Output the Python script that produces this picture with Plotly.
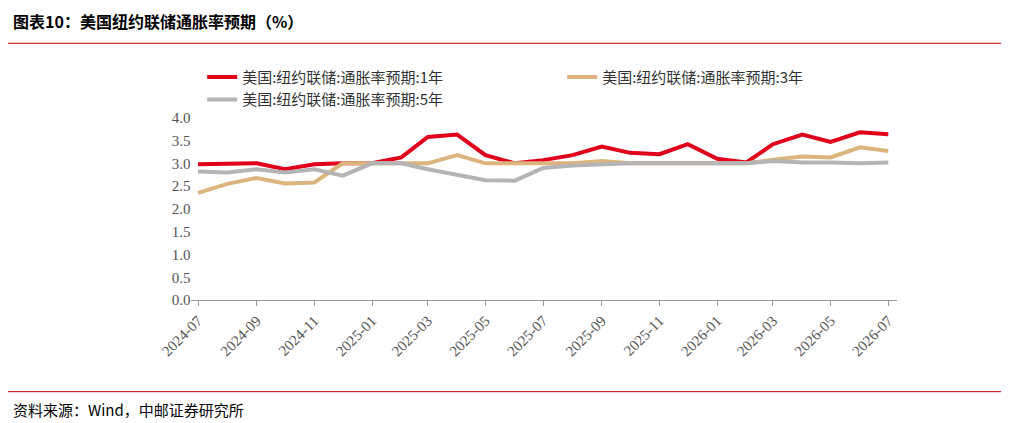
import plotly.graph_objects as go

months = ["2024-07-01", "2024-08-01", "2024-09-01", "2024-10-01", "2024-11-01", "2024-12-01",
          "2025-01-01", "2025-02-01", "2025-03-01", "2025-04-01", "2025-05-01", "2025-06-01",
          "2025-07-01", "2025-08-01", "2025-09-01", "2025-10-01", "2025-11-01", "2025-12-01",
          "2026-01-01", "2026-02-01", "2026-03-01", "2026-04-01", "2026-05-01", "2026-06-01",
          "2026-07-01"]
exp_1y = [2.98, 3.0, 3.0, 2.87, 2.98, 3.0, 3.0, 3.13, 3.58, 3.63, 3.18, 3.0, 3.07,
          3.18, 3.37, 3.23, 3.2, 3.42, 3.1, 3.02, 3.42, 3.63, 3.47, 3.68, 3.64]
exp_3y = [2.35, 2.55, 2.68, 2.56, 2.58, 3.0, 3.0, 3.0, 3.0, 3.18, 3.0, 3.0, 3.0,
          3.0, 3.05, 3.0, 3.0, 3.0, 3.0, 3.0, 3.08, 3.15, 3.13, 3.35, 3.27]
exp_5y = [2.82, 2.8, 2.87, 2.8, 2.87, 2.73, 3.0, 3.0, 2.87, 2.75, 2.63, 2.62, 2.9,
          2.95, 2.98, 3.0, 3.0, 3.0, 3.0, 3.0, 3.05, 3.02, 3.02, 3.0, 3.02]

names = ["美国:纽约联储:通胀率预期:1年", "美国:纽约联储:通胀率预期:3年", "美国:纽约联储:通胀率预期:5年"]
colors = ["#e0001b", "#dbb57d", "#b4b4b4"]
font = "Noto Sans CJK SC"

fig = go.Figure()
for name, ys, c in zip(names, [exp_1y, exp_3y, exp_5y], colors):
    fig.add_trace(go.Scatter(x=months, y=ys, name=name, mode="lines",
                             line=dict(color=c, width=4)))

fig.update_layout(
    width=1009, height=423, margin=dict(l=0, r=0, t=0, b=0),
    plot_bgcolor="white", paper_bgcolor="white",
    font=dict(family=font, size=15, color="#333"),
    legend=dict(orientation="h", x=0.166, y=0.89, xanchor="left", yanchor="top",
                entrywidth=315, font=dict(size=15), bgcolor="rgba(0,0,0,0)"),
    xaxis=dict(domain=[0.155, 0.877], type="date", range=["2024-06-24", "2026-07-10"],
               tickvals=months[::2], tickformat="%Y-%m", tickangle=-45,
               showline=True, linecolor="#999", ticks="outside", tickcolor="#999",
               tickfont=dict(family="Liberation Serif", size=15, color="#555"), showgrid=False),
    yaxis=dict(domain=[0.302, 0.75], range=[0, 4.0], dtick=0.5, tickformat=".1f",
               tickfont=dict(family="Liberation Serif", size=15, color="#555"),
               showgrid=False, zeroline=False),
)
fig.add_shape(type="line", xref="paper", yref="paper", x0=-0.05, x1=1.05, y0=0.933, y1=0.933,
              line=dict(color="#c00000", width=1))
fig.add_shape(type="line", xref="paper", yref="paper", x0=-0.05, x1=1.05, y0=0.077, y1=0.077,
              line=dict(color="#c00000", width=1))
fig.add_annotation(text="<b>图表10：美国纽约联储通胀率预期（%）</b>", xref="paper", yref="paper",
                   x=-0.03, y=0.988, xanchor="left", yanchor="middle", showarrow=False,
                   font=dict(size=16, color="#000"))
fig.add_annotation(text="资料来源：Wind，中邮证券研究所", xref="paper", yref="paper",
                   x=-0.03, y=0.032, xanchor="left", yanchor="middle", showarrow=False,
                   font=dict(size=15, color="#000"))

fig.write_html("out.html")
